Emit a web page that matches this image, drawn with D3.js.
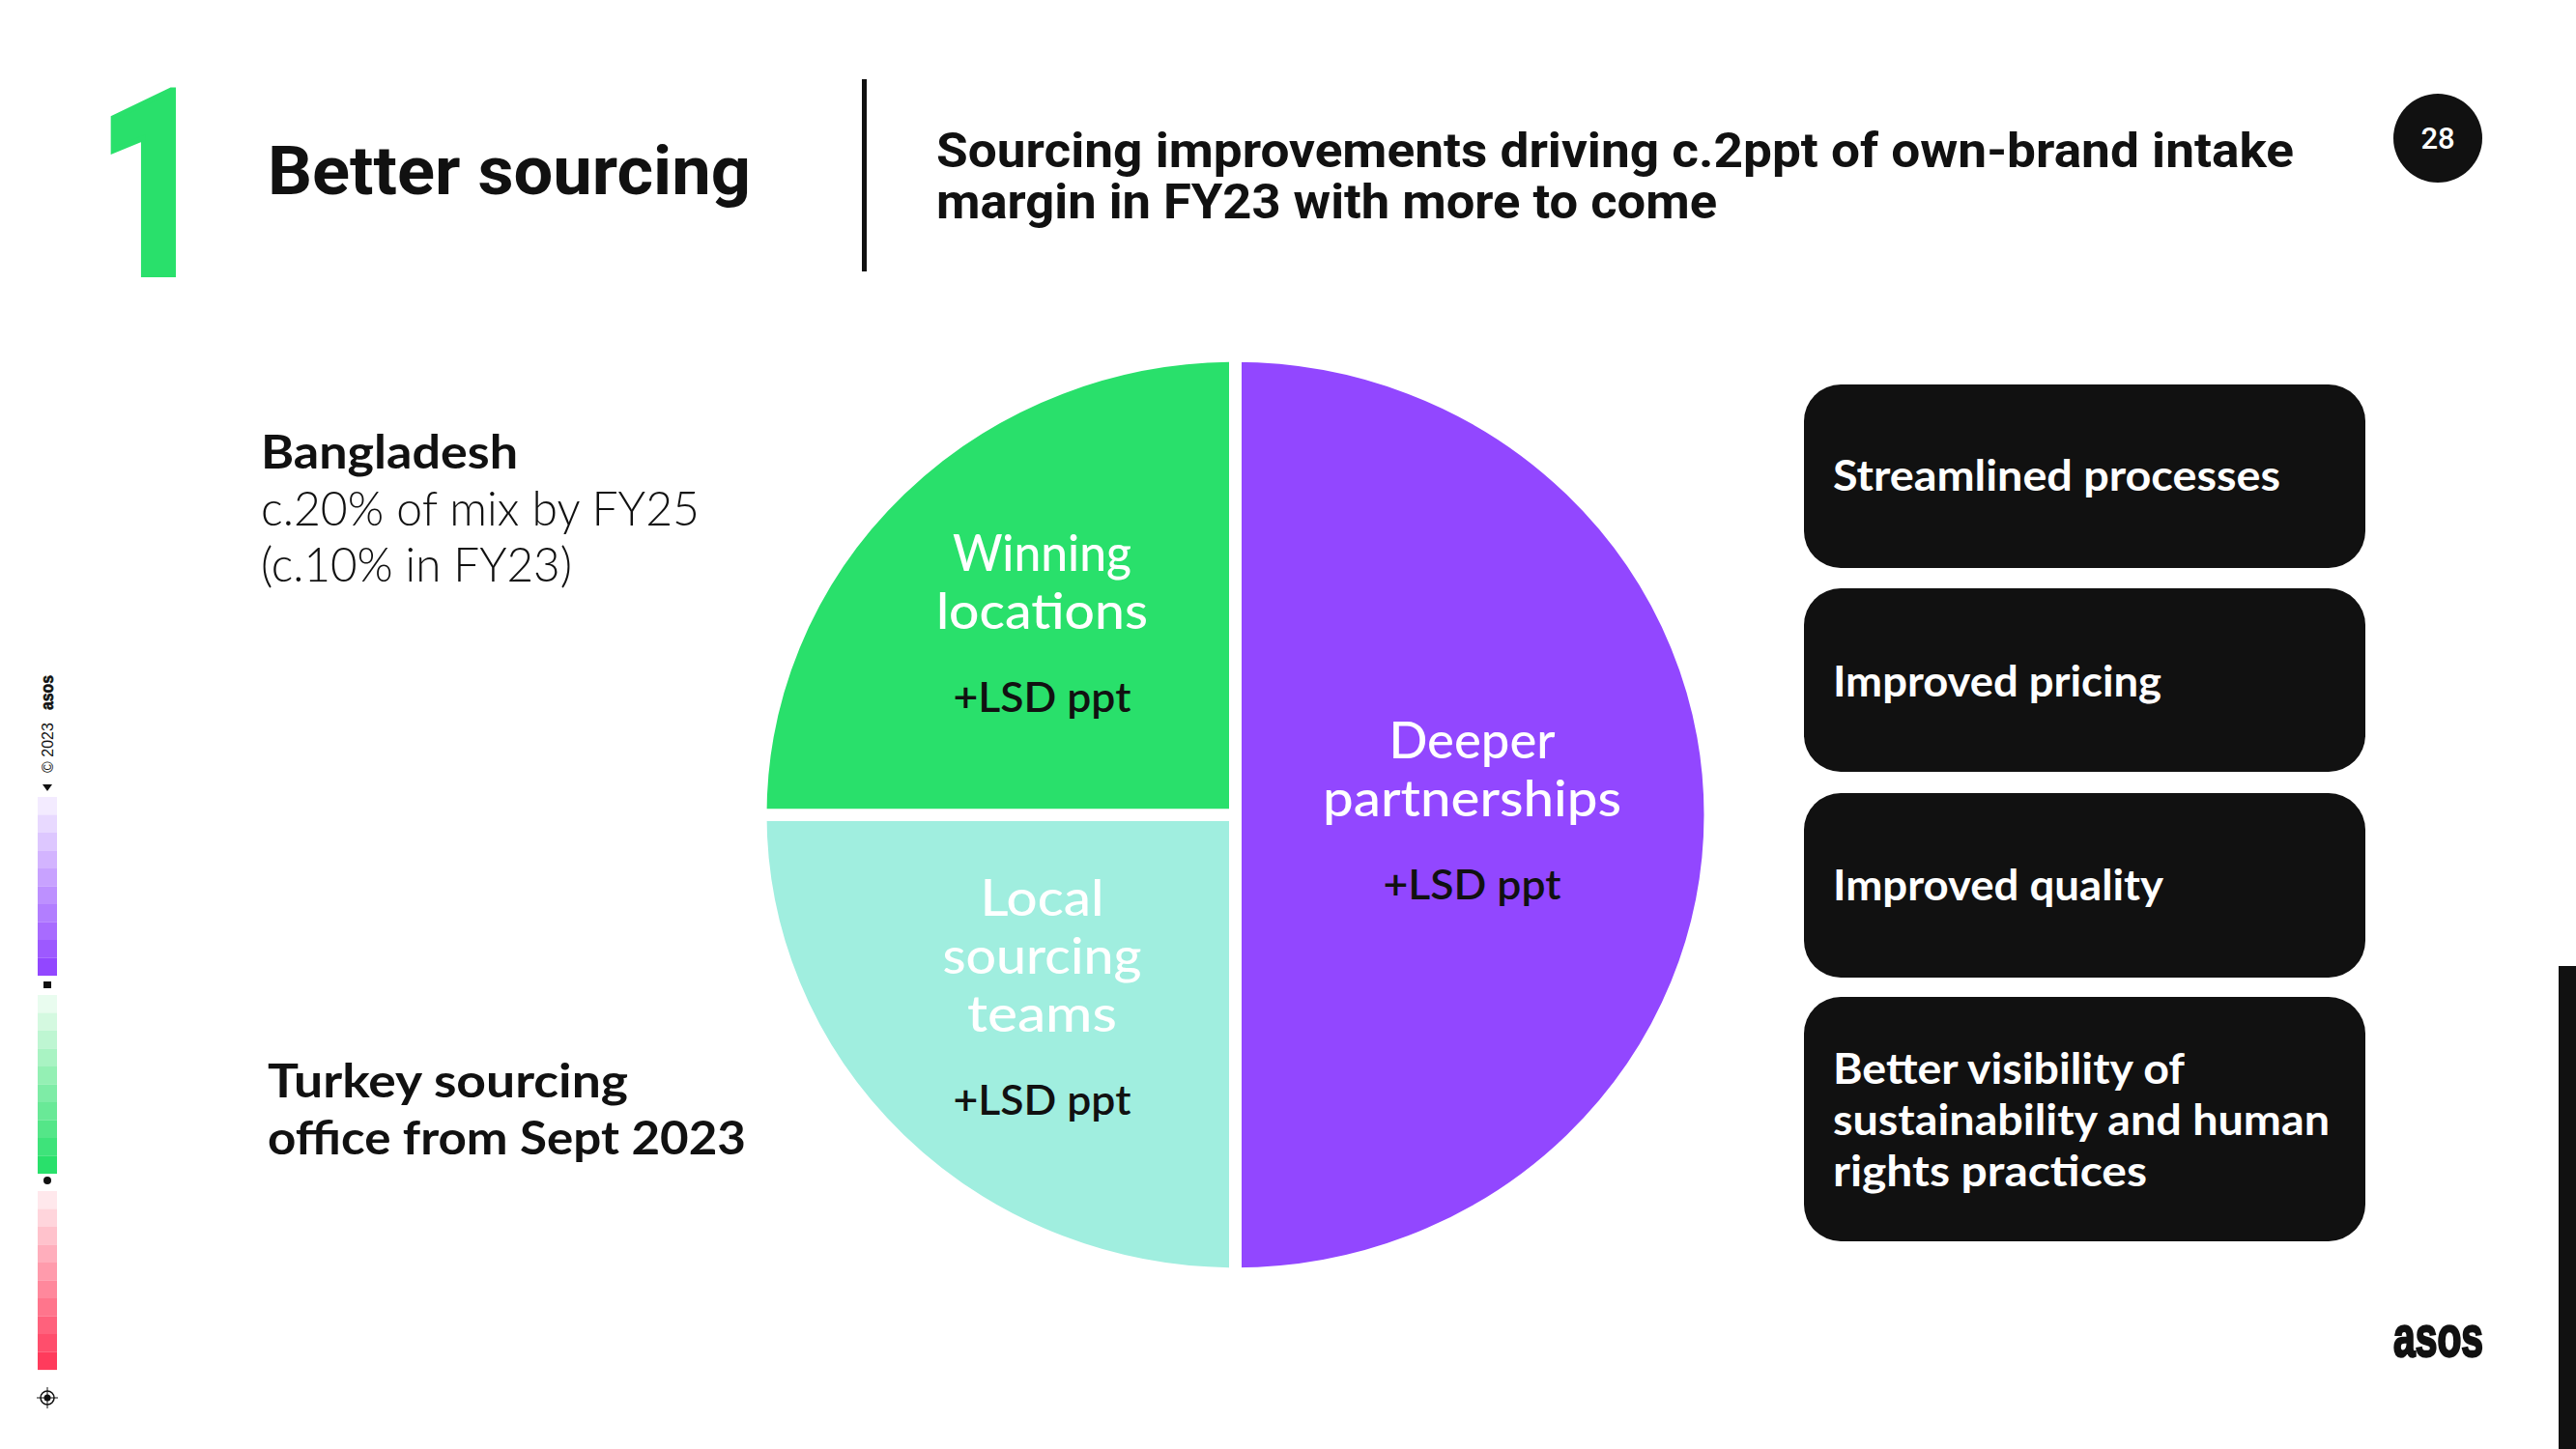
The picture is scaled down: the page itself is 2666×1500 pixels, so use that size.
<!DOCTYPE html>
<html><head><meta charset="utf-8">
<script src="https://cdn.jsdelivr.net/npm/d3@7"></script>
<style>html,body{margin:0;padding:0;background:#fff;}svg{display:block;}</style>
</head><body>
<svg id="c" width="2666" height="1500"></svg>
<script>
// ---- data ----
const segments = ["Deeper partnerships", "Local sourcing teams", "Winning locations"];
const shares = [50, 25, 25];
const segmentLines = [["Deeper", "partnerships"], ["Local", "sourcing", "teams"], ["Winning", "locations"]];
const segmentValues = ["+LSD ppt", "+LSD ppt", "+LSD ppt"];
const segmentColors = ["#9247FF", "#A0EEDF", "#29E06B"];
const drivers = [["Streamlined processes"], ["Improved pricing"], ["Improved quality"],
  ["Better visibility of", "sustainability and human", "rights practices"]];
const sideNotes = [
  {lines: ["Bangladesh", "c.20% of mix by FY25", "(c.10% in FY23)"]},
  {lines: ["Turkey sourcing", "office from Sept 2023"]}
];
const sectionNumber = "1";
const sectionTitle = "Better sourcing";
const headline = ["Sourcing improvements driving c.2ppt of own-brand intake", "margin in FY23 with more to come"];
const pageNumber = "28";

// ---- drawing ----
const svg = d3.select("#c");
const INK = "#111111";
const BODY = "Lato, 'Noto Sans', sans-serif";
const HEAD = "Roboto, 'Liberation Sans', sans-serif";

function txt(g, s, x, y, o) {
  const t = g.append("text").attr("x", x).attr("y", y).text(s)
    .attr("font-family", o.family || BODY).attr("font-size", o.size)
    .attr("font-weight", o.weight || 400).attr("fill", o.fill || INK)
    .attr("text-anchor", o.anchor || "start");
  if (o.width) t.attr("textLength", o.width).attr("lengthAdjust", "spacingAndGlyphs");
  return t;
}

// header
txt(svg, sectionNumber, 0, 0, {family: HEAD, size: 268, weight: 900, fill: "#29E06B", anchor: "middle"})
  .attr("stroke", "#29E06B").attr("stroke-width", 6).attr("stroke-linejoin", "miter")
  .attr("transform", "translate(157,284) scale(0.72,1)");
txt(svg, sectionTitle, 277, 201, {family: HEAD, size: 70, weight: 700, width: 500});
svg.append("rect").attr("x", 892).attr("y", 82).attr("width", 5).attr("height", 199).attr("fill", INK);
const hw = [1405, 808];
headline.forEach((l, i) => txt(svg, l, 969, 173 + i * 53, {family: HEAD, size: 50, weight: 700, width: hw[i]}));
svg.append("circle").attr("cx", 2523).attr("cy", 143).attr("r", 46).attr("fill", INK);
txt(svg, pageNumber, 2523, 154, {family: HEAD, size: 31, weight: 500, fill: "#fff", anchor: "middle"});

// side notes
const n1 = sideNotes[0].lines;
txt(svg, n1[0], 270, 485, {size: 48, weight: 700, width: 266});
txt(svg, n1[1], 270, 544, {size: 50, weight: 300, width: 454});
txt(svg, n1[2], 270, 602, {size: 50, weight: 300, width: 322});
const n2 = sideNotes[1].lines;
txt(svg, n2[0], 277, 1136, {size: 48, weight: 700, width: 373});
txt(svg, n2[1], 277, 1195, {size: 48, weight: 700, width: 495});

// pie (slightly flattened, as in the reference); white stroke makes the gaps
const cx = 1278.5, cy = 843.5, R = 491.5, SY = 0.9664;
const pie = d3.pie().sort(null).value(d => d.v)(segments.map((s, i) => ({s, v: shares[i], i})));
const arc = d3.arc().innerRadius(0).outerRadius(R);
const pg = svg.append("g").attr("transform", `translate(${cx},${cy})`);
pg.append("g").attr("transform", `scale(1,${SY})`)
  .selectAll("path").data(pie).join("path").attr("d", arc)
  .attr("fill", d => segmentColors[d.data.i]).attr("stroke", "#fff").attr("stroke-width", 13)
  .attr("stroke-linejoin", "miter");
const nameW = {"Deeper": 172, "partnerships": 309, "Local": 128, "sourcing": 206, "teams": 155, "Winning": 185, "locations": 219};
pie.forEach(d => {
  const lr = d.data.v >= 50 ? 245 : 283;
  const [lx, ly0] = d3.arc().innerRadius(lr).outerRadius(lr).centroid(d);
  const ly = ly0 * SY;
  const lines = segmentLines[d.data.i];
  const total = (lines.length - 1) * 60 + 86;
  const y0 = ly - total / 2 + 14;
  lines.forEach((l, k) => txt(pg, l, lx, y0 + k * 60, {size: 52, weight: 500, fill: "#fff", anchor: "middle", width: nameW[l]}));
  txt(pg, segmentValues[d.data.i], lx, y0 + (lines.length - 1) * 60 + 86, {size: 43, weight: 600, anchor: "middle", width: 184});
});

// driver boxes
const boxY = [398, 609, 821, 1032], boxH = [190, 190, 191, 253];
const boxTextW = {"Streamlined processes": 463, "Improved pricing": 340, "Improved quality": 342,
  "Better visibility of": 364, "sustainability and human": 514, "rights practices": 325};
const textY = [[508], [721], [932], [1122, 1175, 1228]];
drivers.forEach((lines, i) => {
  svg.append("rect").attr("x", 1867).attr("y", boxY[i]).attr("width", 581).attr("height", boxH[i])
    .attr("rx", 38).attr("fill", "#111111");
  lines.forEach((l, k) => txt(svg, l, 1897, textY[i][k], {size: 43, weight: 700, fill: "#fff", width: boxTextW[l]}));
});

// logo + right bar
txt(svg, "asos", 2477, 1404, {family: "'Liberation Sans', Arial, sans-serif", size: 60, weight: 700, width: 93})
  .attr("stroke", INK).attr("stroke-width", 2.5);
svg.append("rect").attr("x", 2648).attr("y", 1000).attr("width", 18).attr("height", 500).attr("fill", INK);

// left sidebar
const sb = svg.append("g");
txt(sb, "© 2023", 0, 0, {family: "'Liberation Sans', Arial, sans-serif", size: 16, weight: 400})
  .attr("transform", "translate(55,800) rotate(-90)");
txt(sb, "asos", 0, 0, {family: "'Liberation Sans', Arial, sans-serif", size: 18, weight: 700, width: 36})
  .attr("transform", "translate(55,735) rotate(-90)").attr("stroke", INK).attr("stroke-width", 0.6);
sb.append("path").attr("d", "M44,812 L54,812 L49,819 Z").attr("fill", INK);
const ramps = [["#F3EBFF", "#9247FF", 825], ["#E9FCEF", "#29E06B", 1030], ["#FFE8EC", "#FF3B5C", 1233]];
ramps.forEach(([a, b, y]) => {
  const ip = d3.interpolateRgb(a, b);
  for (let k = 0; k < 10; k++) sb.append("rect").attr("x", 39).attr("y", y + k * 18.5).attr("width", 20)
    .attr("height", 18.6).attr("fill", ip(k / 9));
});
sb.append("rect").attr("x", 45).attr("y", 1016).attr("width", 8).attr("height", 7).attr("fill", INK);
sb.append("circle").attr("cx", 49).attr("cy", 1222).attr("r", 4).attr("fill", INK);
sb.append("circle").attr("cx", 49).attr("cy", 1447).attr("r", 7).attr("fill", "none").attr("stroke", INK).attr("stroke-width", 1.5);
sb.append("circle").attr("cx", 49).attr("cy", 1447).attr("r", 3.5).attr("fill", INK);
sb.append("path").attr("d", "M38,1447 H60 M49,1436 V1458").attr("stroke", INK).attr("stroke-width", 1);
</script>
</body></html>
